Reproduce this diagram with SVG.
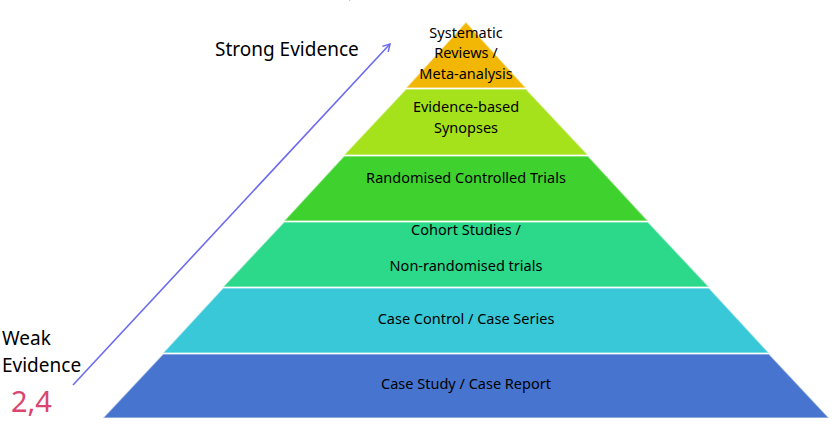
<svg xmlns="http://www.w3.org/2000/svg" width="832" height="438" viewBox="0 0 832 438">
<style>
.l{font-family:"Noto Sans","Open Sans",sans-serif;font-size:14.5px;fill:#000;text-anchor:middle}
.s{font-family:"Noto Sans","Open Sans",sans-serif;font-size:19px;fill:#000}
.layer{stroke:#ffffff;stroke-opacity:0.5;stroke-width:1.5}
</style>
<defs>
<marker id="ah" markerWidth="10" markerHeight="10" refX="8" refY="5" orient="auto" markerUnits="userSpaceOnUse">
<path d="M1,1 L8,5 L1,9" fill="none" stroke="#6b6bf0" stroke-width="1.5"/>
</marker>
</defs>
<rect width="832" height="438" fill="#fff"/>
<g id="connectors">
<line x1="73" y1="385" x2="390" y2="44" stroke="#6b6bf0" stroke-width="1.6" marker-end="url(#ah)"/>
<path d="M349,0 L351,-2" stroke="#6b6bf0" stroke-width="2"/>
</g>
<g id="l1"><polygon class="layer" points="466,22 526,88 406,88" fill="#f2b705"/>
<text class="l" x="466" y="38">Systematic</text><text class="l" x="466" y="58">Reviews /</text><text class="l" x="466" y="79">Meta-analysis</text></g>
<g id="l2"><polygon class="layer" points="406,89 526,89 588,155 344,155" fill="#a6e21c"/>
<text class="l" x="466" y="112">Evidence-based</text><text class="l" x="466" y="133">Synopses</text></g>
<g id="l3"><polygon class="layer" points="344,156 588,156 648,221 284,221" fill="#3fd22e"/>
<text class="l" x="466" y="183">Randomised Controlled Trials</text></g>
<g id="l4"><polygon class="layer" points="284,222 648,222 709,287 223,287" fill="#2cd88a"/>
<text class="l" x="466" y="235">Cohort Studies /</text><text class="l" x="466" y="271">Non-randomised trials</text></g>
<g id="l5"><polygon class="layer" points="223,288 709,288 769,353 163,353" fill="#38c8d8"/>
<text class="l" x="466" y="324">Case Control / Case Series</text></g>
<g id="l6"><polygon class="layer" points="163,354 769,354 829,418 103,418" fill="#4674cf"/>
<text class="l" x="466" y="389">Case Study / Case Report</text></g>
<g id="labels">
<text class="s" x="215" y="56">Strong Evidence</text>
<text class="s" x="2" y="345">Weak</text>
<text class="s" x="2" y="372">Evidence</text>
<text x="11" y="412" font-family="Noto Sans,sans-serif" font-size="29" fill="#d9466f">2,4</text>
</g>
</svg>
